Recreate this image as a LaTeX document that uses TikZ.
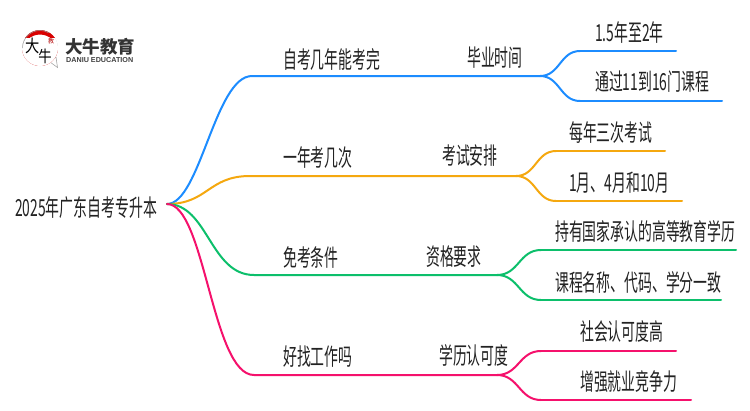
\documentclass[tikz,border=0pt]{standalone}
\usepackage{fontspec}
\usetikzlibrary{calc}
\setmainfont{Noto Sans CJK SC}
\newfontfamily\latinlogo{Liberation Sans}
\definecolor{cblue}{HTML}{1C8CFF}
\definecolor{corange}{HTML}{F5A80F}
\definecolor{cgreen}{HTML}{0CBF6B}
\definecolor{cpink}{HTML}{F5116C}
\definecolor{ctext}{HTML}{222222}
\newcommand{\lbl}[1]{\scalebox{.59}[1]{#1}}
\tikzset{
  x=1pt,y=-1pt,
  lab/.style={inner sep=0pt,anchor=base west,text=ctext,font=\fontsize{23.5}{26}\selectfont},
  link/.style={line width=2pt,line cap=round},
}
\newcommand{\curve}[3]{\coordinate (m) at ($(#2)!.5!(#3)$);
  \draw[link,#1] (#2) .. controls (m |- #2) and (m |- #3) .. (#3);}
\begin{document}
\begin{tikzpicture}
\useasboundingbox (0,0) rectangle (750,410);
\fill[white] (0,0) rectangle (750,410);
% logo
\fill[white,draw=black!40,line width=.5pt] (50,62) -- (57.5,67.5) -- (56,57) -- cycle;
\fill[white,draw=black!40,line width=.5pt] (40,48) circle (17.5);
\begin{scope}
\clip (40,48) circle (18);
\fill[red!85!black,even odd rule] (22,28) rectangle (60,38) (40,52) circle (17.5);
\fill[white] (22,38) rectangle (60,70);
\end{scope}
\draw[black!40,line width=.5pt] (22.5,48) arc[start angle=180,end angle=300,radius=17.5];
\node[inner sep=0pt,text=black,font=\fontsize{15}{15}\selectfont] (logoa) at (33,46) {\scalebox{.95}[1.15]{大}};
\node[inner sep=0pt,text=black,font=\fontsize{14}{14}\selectfont] (logob) at (45,56) {\scalebox{.95}[1.15]{牛}};
\node[inner sep=0pt,text=red!70!black,font=\fontsize{6}{6}\selectfont] (logoc) at (51,41) {教};
\node[inner sep=0pt,anchor=west,text=black!80,font=\fontsize{17.5}{18}\selectfont\bfseries] (brand) at (65,47) {大牛教育};
\node[inner sep=0pt,anchor=west,text=black!75,font=\fontsize{7.2}{8}\selectfont\latinlogo\bfseries] (brandb) at (66,60.5) {DANIU EDUCATION};

% texts
\node[lab] (root) at (15,216) {\lbl{2025年广东自考专升本}};
\node[lab] (a) at (283,68) {\lbl{自考几年能考完}};
\node[lab] (a1) at (467,66) {\lbl{毕业时间}};
\node[lab] (a11) at (595,41) {\lbl{1.5年至2年}};
\node[lab] (a12) at (595,90) {\lbl{通过11到16门课程}};
\node[lab] (b) at (283,166) {\lbl{一年考几次}};
\node[lab] (b1) at (442,164) {\lbl{考试安排}};
\node[lab] (b11) at (569,141) {\lbl{每年三次考试}};
\node[lab] (b12) at (569,191) {\lbl{1月、4月和10月}};
\node[lab] (c) at (283,266) {\lbl{免考条件}};
\node[lab] (c1) at (426,265) {\lbl{资格要求}};
\node[lab] (c11) at (555,240) {\lbl{持有国家承认的高等教育学历}};
\node[lab] (c12) at (555,291) {\lbl{课程名称、代码、学分一致}};
\node[lab] (d) at (283,365) {\lbl{好找工作吗}};
\node[lab] (d1) at (439,364) {\lbl{学历认可度}};
\node[lab] (d11) at (580,340) {\lbl{社会认可度高}};
\node[lab] (d12) at (580,390) {\lbl{增强就业竞争力}};

% junctions
\coordinate (r) at (167,204);
\coordinate (as) at (252,76); \coordinate (ae) at (540,76);
\coordinate (a1s) at (580,51); \coordinate (a1e) at (676,51);
\coordinate (a2s) at (580,101); \coordinate (a2e) at (722,101);
\coordinate (bs) at (250,176); \coordinate (be) at (516,176);
\coordinate (b1s) at (556,151); \coordinate (b1e) at (665,151);
\coordinate (b2s) at (556,201); \coordinate (b2e) at (682,201);
\coordinate (cs) at (254,275); \coordinate (ce) at (497,275);
\coordinate (c1s) at (541,250); \coordinate (c1e) at (736,250);
\coordinate (c2s) at (541,300); \coordinate (c2e) at (721,300);
\coordinate (ds) at (254,375); \coordinate (de) at (497,375);
\coordinate (d1s) at (541,351); \coordinate (d1e) at (676,351);
\coordinate (d2s) at (541,400); \coordinate (d2e) at (691,400);

% blue
\draw[link,cblue] (r) .. controls (200,204) and (215,76) .. (as) -- (ae);
\curve{cblue}{ae}{a1s} \draw[link,cblue] (a1s) -- (a1e);
\curve{cblue}{ae}{a2s} \draw[link,cblue] (a2s) -- (a2e);
% orange
\draw[link,corange] (r) .. controls (208,204) and (208,176) .. (bs) -- (be);
\curve{corange}{be}{b1s} \draw[link,corange] (b1s) -- (b1e);
\curve{corange}{be}{b2s} \draw[link,corange] (b2s) -- (b2e);
% green
\draw[link,cgreen] (r) .. controls (208,204) and (210,275) .. (cs) -- (ce);
\curve{cgreen}{ce}{c1s} \draw[link,cgreen] (c1s) -- (c1e);
\curve{cgreen}{ce}{c2s} \draw[link,cgreen] (c2s) -- (c2e);
% pink
\draw[link,cpink] (r) .. controls (205,204) and (212,375) .. (ds) -- (de);
\curve{cpink}{de}{d1s} \draw[link,cpink] (d1s) -- (d1e);
\curve{cpink}{de}{d2s} \draw[link,cpink] (d2s) -- (d2e);
\end{tikzpicture}
\end{document}
